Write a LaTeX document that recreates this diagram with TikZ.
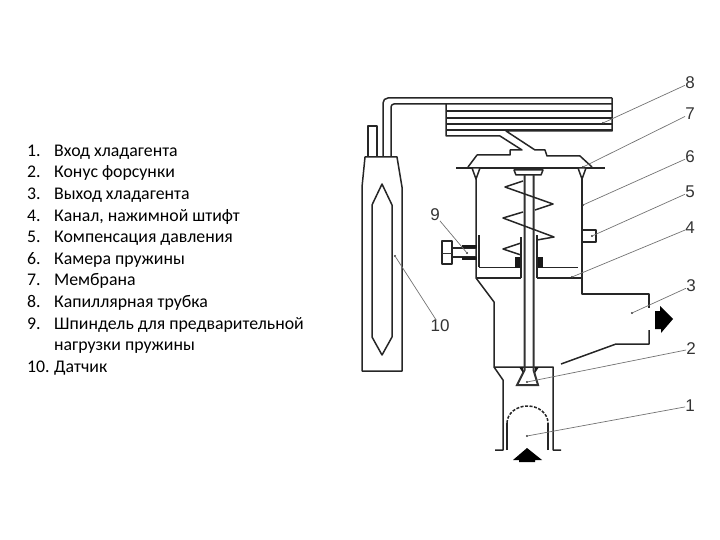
\documentclass[tikz,border=0pt]{standalone}
\usepackage{fontspec}
\setmainfont{Carlito}
\newfontfamily\labelfont{Liberation Sans}
\usetikzlibrary{calc}
\tikzset{
    listtext/.style = {anchor=base west,inner sep=0pt,font=\fontsize{17.8}{20}\selectfont},
    partnum/.style = {inner sep=0pt,text=black!80,font=\labelfont\fontsize{17}{18}\selectfont},
    leader/.style = {black!55,line width=0.7pt},
    body/.style = {line width=1.5pt,black!85,line join=round},
    thin body/.style = {line width=1pt,black!80,line join=round},
    enddot/.style = {circle,fill=black!80,inner sep=0.8pt}
}
\begin{document}
\begin{tikzpicture}[x=1pt,y=-1pt]
    \useasboundingbox (0,0) rectangle (720,540);

    % list on the left
    \foreach \ii/\yy/\txt in {1/156.5/Вход хладагента,2/177.5/Конус форсунки,3/199.5/Выход хладагента,
        4/221.5/{Канал, нажимной штифт},5/242.5/Компенсация давления,6/264.5/Камера пружины,
        7/285.5/Мембрана,8/307.5/Капиллярная трубка,9/329.5/Шпиндель для предварительной,10/372.5/Датчик}
    {
        \node[listtext] (num\ii) at (27,\yy) {\ii.};
        \node[listtext] (txt\ii) at (54,\yy) {\txt};
    }
    \node[listtext] (txt9b) at (54,350.5) {нагрузки пружины};

    % sensor
    \draw[body] (365,157) -- (397,157) -- (402,187) -- (402,371) -- (362,371) -- (362,187) -- cycle;
    \draw[body] (382,184) -- (392,205) -- (392,337) -- (382,355) -- (372,337) -- (372,205) -- cycle;
    \draw[body] (368,157) -- (368,126) -- (377,126) -- (377,157);

    % capillary and coil
    \draw[body,rounded corners=5pt] (383,157) -- (383,98) -- (612,98);
    \draw[body,rounded corners=3pt] (391,157) -- (391,104) -- (612,104);
    \draw[body] (612,98) -- (612,131) -- (506,131) -- (535,150) -- (545,150) -- (547,156)
        -- (580,156) -- (592,167);
    \draw[body] (446,104) -- (446,136) -- (500,136) -- (522,150) -- (510,150) -- (510,155)
        -- (477,155) -- (468,167);
    \foreach \ii in {111,118,124,130}
        {\draw[body] (446,\ii) to (612,\ii);}

    % membrane and chamber
    \draw[line width=2pt,black!85] (456,168) to (605,168);
    \foreach \ii in {476,582}
        {\draw[body,fill=white] (\ii-4,168) -- (\ii+4,168) -- (\ii,179) -- cycle;}
    \draw[body] (476,178) -- (476,278) -- (494,302) -- (494,367) -- (553,367) -- (553,450) -- (561,450);
    \draw[body] (494,367) -- (503,380) -- (503,450) -- (495,450);
    \draw[body] (582,178) -- (582,294) -- (649,294) -- (649,308);
    \draw[body] (649,330) -- (649,344) -- (616,344) -- (561,364);
    \draw[body] (479,235) -- (479,267);

    % floor
    \draw[body] (479,267.5) -- (521,267.5);
    \draw[body] (537,267.5) -- (578,267.5);
    \draw[body] (476,278) -- (521,278);
    \draw[body] (537,278) -- (582,278);
    \fill[black!90] (515,257) rectangle (521,267.5);
    \fill[black!90] (537,257) rectangle (543,267.5);
    \draw[body] (521,237) -- (521,278);
    \draw[body] (537,235) -- (537,278);

    % spindle and cone
    \draw[body] (514,170) -- (543,170) -- (541,175) -- (516,175) -- cycle;
    \draw[line width=2pt,black!80] (524.5,175) -- (524.5,370) -- (517,385) -- (538,385) -- (533.5,370) -- (533.5,175);
    \fill[black!90] (519,367) -- (523,367) -- (523,373) -- cycle;
    \fill[black!90] (535,367) -- (539,367) -- (535,373) -- cycle;

    % spring
    \draw[body] (523,181) -- (505,187) -- (553,204) -- (535,210);
    \draw[body] (523,212) -- (503,218) -- (554,237) -- (537,240);
    \draw[body] (521,243) -- (503,249) -- (521,255);

    % adjuster
    \draw[body] (442,241) rectangle (452,264);
    \draw[thin body] (442,253) to (452,253);
    \draw[body] (452,248) -- (477,248);
    \draw[body] (452,257) -- (477,257);
    \fill[black!90] (462,245) rectangle (477,248);
    \fill[black!90] (462,257) rectangle (477,260);

    % pressure port
    \draw[body] (582,230) rectangle (596,242);

    % inlet
    \draw[body] (507,450) -- (507,423);
    \draw[body] (548,450) -- (548,423);
    \draw[body,dashed,dash pattern=on 3pt off 1.5pt] (507,423) arc[start angle=180,end angle=0,x radius=20.5,y radius=-17];

    % flow arrows
    \fill[black] (660,306) -- (673,319) -- (661,333) -- (661,329) -- (655,329) -- (655,311) -- (660,311) -- cycle;
    \fill[black] (527,448) -- (542,460) -- (535,460) -- (535,462) -- (519,462) -- (519,460) -- (513,460) -- cycle;

    % part numbers
    \node[partnum] (lab1) at (690,406) {1};
    \node[partnum] (lab2) at (691,349) {2};
    \node[partnum] (lab3) at (691,286) {3};
    \node[partnum] (lab4) at (690,228) {4};
    \node[partnum] (lab5) at (690,192) {5};
    \node[partnum] (lab6) at (690,157) {6};
    \node[partnum] (lab7) at (690,114) {7};
    \node[partnum] (lab8) at (690,83) {8};
    \node[partnum] (lab9) at (435,215) {9};
    \node[partnum] (lab10) at (440,326) {10};

    % leader lines
    \foreach \ii/\xx/\yy in {1/527/436,2/527/382,3/632/313,4/572/277,5/592/236,6/583/205,7/583/167,8/603/123,9/467/253,10/395/256}
    {
        \node[enddot] (dot\ii) at (\xx,\yy) {};
        \draw[leader] (dot\ii.center) to (lab\ii);
    }
\end{tikzpicture}
\end{document}
